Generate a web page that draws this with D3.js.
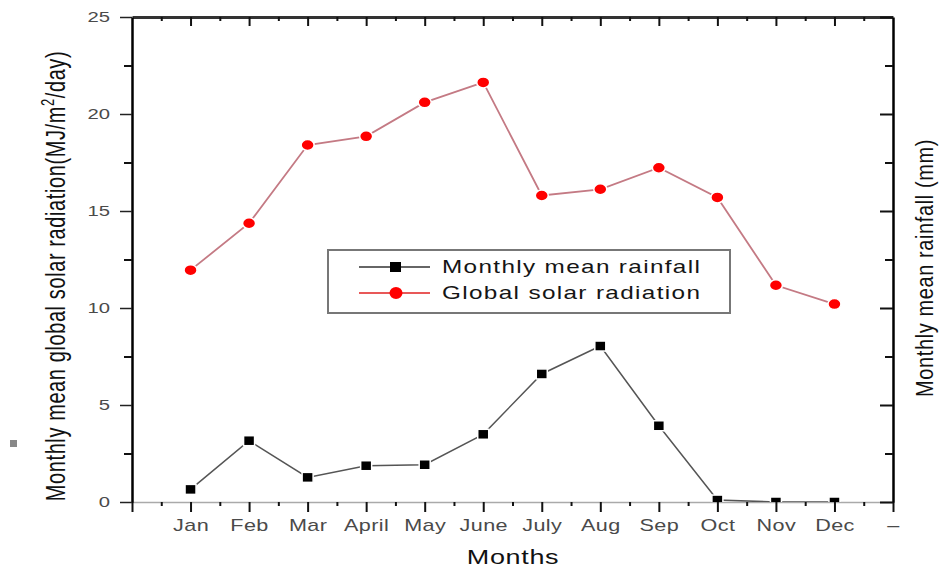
<!DOCTYPE html>
<html>
<head>
    <meta charset="utf-8">
    <style>
        body {
            margin: 0;
            background: #fff;
        }

        svg {
            font-family: 'Liberation Sans', Arial, sans-serif;
        }

        .tick text {
            fill: #4a4a4a;
        }
    </style>
    <title>Solar radiation and rainfall</title>
</head>

<body>
    <svg width="939" height="570"></svg>
</body>

<script src="https://d3js.org/d3.v7.min.js"></script>
<script>
    // values
    let months = ['Jan', 'Feb', 'Mar', 'April', 'May', 'June', 'July', 'Aug', 'Sep', 'Oct', 'Nov', 'Dec']
    let solarRadiation = [11.95, 14.37, 18.4, 18.85, 20.6, 21.63, 15.8, 16.12, 17.23, 15.7, 11.17, 10.2]
    let rainfall = [0.65, 3.16, 1.27, 1.87, 1.92, 3.49, 6.6, 8.04, 3.93, 0.1, 0, 0]
    let yTicks = [0, 5, 10, 15, 20, 25]
    let yMinorTicks = [2.5, 7.5, 12.5, 17.5, 22.5]
    let xLabels = [''].concat(months, ['–'])

    let svg = d3.select('svg')

    let plotLeft = 132, plotRight = 893, plotTop = 17, plotBottom = 502
    // the source picture is stretched sideways, text too
    let stretch = 1.35

    let x = d3.scaleLinear().domain([0, 13]).range([plotLeft, plotRight])
    let y = d3.scaleLinear().domain([0, 25]).range([plotBottom, plotTop])
    let yRight = d3.scaleLinear().domain([0, 25]).range([plotBottom, plotTop])

    let majorX = d3.range(0, 14)
    let minorX = d3.range(0.5, 13, 1)

    // little grey mark at the far left
    svg.append('rect')
        .attr('x', 10).attr('y', 440)
        .attr('width', 7).attr('height', 7)
        .attr('fill', '#888')

    // bottom axis
    let gBottom = svg.append('g').attr('transform', `translate(0,${plotBottom})`)
        .call(d3.axisBottom(x).tickValues(majorX).tickSize(10).tickSizeOuter(0).tickPadding(8)
            .tickFormat(i => xLabels[i]))
    gBottom.select('.domain').attr('stroke', '#aaa').attr('stroke-width', 1.5)
    gBottom.selectAll('.tick line').attr('stroke', '#111').attr('stroke-width', 2)
    gBottom.selectAll('.tick text')
        .style('font-size', '16px')
        .style('letter-spacing', '0.3px')
        .attr('transform', `scale(${stretch},1)`)

    svg.append('g').attr('transform', `translate(0,${plotBottom})`)
        .call(d3.axisBottom(x).tickValues(minorX).tickSize(4).tickFormat(''))
        .call(g => g.select('.domain').remove())
        .selectAll('.tick line').attr('stroke', '#111').attr('stroke-width', 2)

    // top axis
    let gTop = svg.append('g').attr('transform', `translate(0,${plotTop})`)
        .call(d3.axisTop(x).tickValues(majorX.slice(1, 13)).tickSize(-9).tickSizeOuter(0).tickFormat(''))
    gTop.select('.domain').attr('stroke', '#333').attr('stroke-width', 3)
    gTop.selectAll('.tick line').attr('stroke', '#111').attr('stroke-width', 2)

    svg.append('g').attr('transform', `translate(0,${plotTop})`)
        .call(d3.axisTop(x).tickValues(minorX).tickSize(-4).tickFormat(''))
        .call(g => g.select('.domain').remove())
        .selectAll('.tick line').attr('stroke', '#111').attr('stroke-width', 2)

    // left axis
    let gLeft = svg.append('g').attr('transform', `translate(${plotLeft},0)`)
        .call(d3.axisLeft(y).tickValues(yTicks).tickSize(12).tickSizeOuter(0).tickPadding(10))
    gLeft.select('.domain').attr('stroke', '#000').attr('stroke-width', 2.5)
    gLeft.selectAll('.tick line').attr('stroke', '#222').attr('stroke-width', 1.5)
    gLeft.selectAll('.tick text')
        .style('font-size', '15px')
        .attr('x', -22 / stretch)
        .attr('transform', `scale(${stretch},1)`)

    svg.append('g').attr('transform', `translate(${plotLeft},0)`)
        .call(d3.axisLeft(y).tickValues(yMinorTicks).tickSize(8).tickFormat(''))
        .call(g => g.select('.domain').remove())
        .selectAll('.tick line').attr('stroke', '#111').attr('stroke-width', 2)

    // right axis, ticks only
    let gRight = svg.append('g').attr('transform', `translate(${plotRight},0)`)
        .call(d3.axisRight(yRight).tickValues(yTicks).tickSize(-13).tickSizeOuter(0).tickFormat(''))
    gRight.select('.domain').attr('stroke', '#000').attr('stroke-width', 2.5)
    gRight.selectAll('.tick line').attr('stroke', '#111').attr('stroke-width', 2)

    svg.append('g').attr('transform', `translate(${plotRight},0)`)
        .call(d3.axisRight(yRight).tickValues(yMinorTicks).tickSize(-8).tickFormat(''))
        .call(g => g.select('.domain').remove())
        .selectAll('.tick line').attr('stroke', '#111').attr('stroke-width', 2)

    // data, clipped to the frame
    svg.append('clipPath').attr('id', 'frame')
        .append('rect')
        .attr('x', plotLeft).attr('y', plotTop)
        .attr('width', plotRight - plotLeft).attr('height', plotBottom - plotTop)

    let plot = svg.append('g').attr('clip-path', 'url(#frame)')

    let rainLine = d3.line().x((d, i) => x(i + 1)).y(d => yRight(d))
    let solarLine = d3.line().x((d, i) => x(i + 1)).y(d => y(d))

    plot.append('path')
        .datum(rainfall)
        .attr('d', rainLine)
        .attr('fill', 'none')
        .attr('stroke', '#555')
        .attr('stroke-width', 1.5)

    plot.append('path')
        .datum(solarRadiation)
        .attr('d', solarLine)
        .attr('fill', 'none')
        .attr('stroke', '#c47a84')
        .attr('stroke-width', 1.8)

    plot.selectAll('.rain')
        .data(rainfall)
        .join('rect')
        .attr('class', 'rain')
        .attr('x', (d, i) => x(i + 1) - 5.5)
        .attr('y', d => yRight(d) - 5)
        .attr('width', 11)
        .attr('height', 10)
        .attr('fill', '#000')
        .attr('stroke', '#fff')
        .attr('stroke-width', 1.5)

    plot.selectAll('.solar')
        .data(solarRadiation)
        .join('ellipse')
        .attr('class', 'solar')
        .attr('cx', (d, i) => x(i + 1))
        .attr('cy', d => y(d))
        .attr('rx', 6.5)
        .attr('ry', 5.5)
        .attr('fill', '#ff0000')
        .attr('stroke', '#fff')
        .attr('stroke-width', 1.5)

    // legend
    let legend = svg.append('g')
    legend.append('rect')
        .attr('x', 328).attr('y', 250)
        .attr('width', 402).attr('height', 63)
        .attr('fill', '#fff')
        .attr('stroke', '#777')
        .attr('stroke-width', 2)

    let items = [
        { name: 'Monthly mean rainfall', color: '#333', shape: 'square' },
        { name: 'Global solar radiation', color: '#e02020', shape: 'circle' }
    ]

    items.forEach((item, i) => {
        let ly = 267 + i * 26
        legend.append('line')
            .attr('x1', 359).attr('x2', 430)
            .attr('y1', ly).attr('y2', ly)
            .attr('stroke', item.color)
            .attr('stroke-width', 1.5)
        if (item.shape == 'square') {
            legend.append('rect')
                .attr('x', 390).attr('y', ly - 5)
                .attr('width', 11).attr('height', 10)
                .attr('fill', '#000')
        } else {
            legend.append('ellipse')
                .attr('cx', 396).attr('cy', ly)
                .attr('rx', 6.5).attr('ry', 6)
                .attr('fill', '#ff0000')
        }
        legend.append('text')
            .attr('transform', `translate(442,${ly}) scale(${stretch},1)`)
            .attr('dy', '0.35em')
            .attr('fill', '#151515')
            .style('font-size', '18px')
            .style('letter-spacing', '1px')
            .text(item.name)
    })

    // axis titles
    svg.append('text')
        .attr('transform', `translate(65,276) scale(${stretch},1) rotate(-90)`)
        .attr('text-anchor', 'middle')
        .attr('fill', '#111')
        .style('font-size', '20px')
        .style('letter-spacing', '0.6px')
        .call(t => {
            t.append('tspan').text('Monthly mean global solar radiation(MJ/m')
            t.append('tspan').attr('dy', -8).style('font-size', '13px').text('2')
            t.append('tspan').attr('dy', 8).text('/day)')
        })

    svg.append('text')
        .attr('transform', `translate(933,268) scale(1.15,1) rotate(-90)`)
        .attr('text-anchor', 'middle')
        .attr('fill', '#111')
        .style('font-size', '20px')
        .style('letter-spacing', '0.6px')
        .text('Monthly mean rainfall (mm)')

    svg.append('text')
        .attr('transform', `translate(513,564) scale(${stretch},1)`)
        .attr('text-anchor', 'middle')
        .attr('fill', '#111')
        .style('font-size', '20px')
        .style('letter-spacing', '0.5px')
        .text('Months')
</script>
</html>
